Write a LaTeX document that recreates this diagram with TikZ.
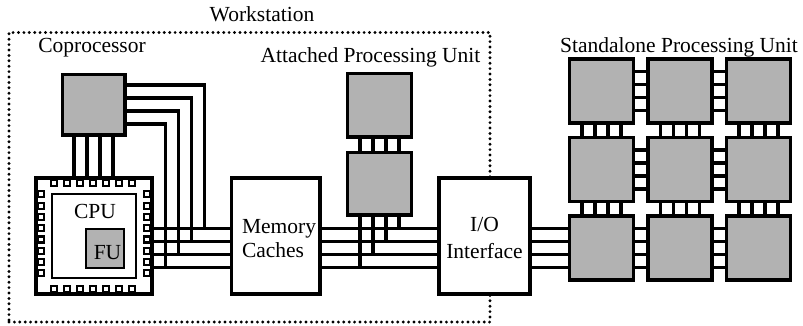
\documentclass[tikz,border=0pt]{standalone}
\usepackage{fontspec}
\setmainfont{Liberation Serif}
\definecolor{chip}{gray}{0.70}
\begin{document}
\begin{tikzpicture}[x=1pt,y=-1pt,
  wire/.style={line width=3.4pt},
  box/.style={draw,line width=3.4pt,fill=white,inner sep=0pt,outer sep=0pt,rectangle},
  chipbox/.style={box,fill=chip},
  pin/.style={draw,line width=2.1pt,fill=white},
  thinbox/.style={draw,line width=2.3pt,inner sep=0pt,outer sep=0pt,rectangle},
  lbl/.style={font=\fontsize{21.5}{25}\selectfont,inner sep=0pt,outer sep=0pt},
  wsbox/.style={draw,line width=3.2pt,dash pattern=on 0pt off 5.4pt,line cap=round,inner sep=0pt,outer sep=0pt,rectangle}
]
\useasboundingbox (0,0) rectangle (803,325);

% workstation boundary
\node[wsbox,minimum width=481pt,minimum height=289.5pt] (ws) at (249.5,177.25) {};

% boxes (positions)
\node[box,minimum width=116pt,minimum height=116pt] (cpu) at (94,236) {};
\node[box,minimum width=88.5pt,minimum height=116pt] (mem) at (275.75,236) {};
\node[box,minimum width=91pt,minimum height=116pt] (io) at (484.5,236) {};
\node[chipbox,minimum width=62.5pt,minimum height=60.5pt] (cop) at (93.75,104.75) {};
\node[chipbox,minimum width=64pt,minimum height=63.5pt] (a1) at (379.5,105.25) {};
\node[chipbox,minimum width=64pt,minimum height=62.5pt] (a2) at (379.5,183.75) {};
\foreach \i/\x in {0/601.5,1/680,2/758.5}
  \foreach \j/\y in {0/91,1/169.5,2/248}
    \node[chipbox,minimum width=64pt,minimum height=64pt] (s\i\j) at (\x,\y) {};

% buses
\foreach \y in {228.5,241.5,254.5,267.5} {
  \draw[wire] (cpu.east |- 0,\y) -- (mem.west |- 0,\y);
  \draw[wire] (mem.east |- 0,\y) -- (io.west |- 0,\y);
  \draw[wire] (io.east |- 0,\y) -- (s02.west |- 0,\y);
}
% coprocessor to bus
\foreach \ya/\xv/\yb in {85/204.5/228.5,98/191.5/241.5,111/178.5/254.5,124/165.5/267.5}
  \draw[wire] (cop.east |- 0,\ya) -| (\xv,\yb);
% coprocessor to cpu
\foreach \x in {74,87,100,113}
  \draw[wire] (cop.south -| \x,0) -- (cpu.north -| \x,0);
% attached processing unit
\foreach \x in {360,373,386,399}
  \draw[wire] (a1.south -| \x,0) -- (a2.north -| \x,0);
\foreach \x/\yb in {360/267.5,373/254.5,386/241.5,399/228.5}
  \draw[wire] (a2.south -| \x,0) -- (\x,\yb);
% standalone grid links
\foreach \j in {0,1,2}
  \foreach \i/\k in {0/1,1/2}
    \foreach \d in {-19.5,-6.5,6.5,19.5}
      \draw[wire] ([yshift=\d pt]s\i\j.east) -- ([yshift=\d pt]s\k\j.west);
\foreach \i in {0,1,2}
  \foreach \j/\k in {0/1,1/2}
    \foreach \d in {-19.5,-6.5,6.5,19.5}
      \draw[wire] ([xshift=\d pt]s\i\j.south) -- ([xshift=\d pt]s\i\k.north);

% redraw box outlines on top
\node[box,minimum width=116pt,minimum height=116pt] at (cpu) {};
\node[box,minimum width=88.5pt,minimum height=116pt] at (mem) {};
\node[box,minimum width=91pt,minimum height=116pt] at (io) {};

% CPU details
\node[thinbox,minimum width=84pt,minimum height=84pt] (core) at (94,236) {};
\node[thinbox,fill=chip,minimum width=38pt,minimum height=39pt] (fu) at (105,248.5) {};
\foreach \x in {54,67,...,132} {
  \draw[pin] (\x-3.2,180.2) rectangle (\x+3.2,186.2);
  \draw[pin] (\x-3.2,285.8) rectangle (\x+3.2,291.8);
}
\foreach \y in {194.3,205.6,216.9,228.2,239.5,250.8,262.1,273.4} {
  \draw[pin] (38.2,\y-3) rectangle (44.2,\y+3);
  \draw[pin] (143.8,\y-3) rectangle (149.8,\y+3);
}

% labels
\node[lbl,anchor=base] (tws) at (262,21) {Workstation};
\node[lbl,anchor=base] (tcop) at (92,52) {Coprocessor};
\node[lbl,anchor=base] (tapu) at (370.5,62) {Attached Processing Unit};
\node[lbl,anchor=base] (tspu) at (679,52) {Standalone Processing Unit};
\node[lbl,anchor=base] (tcpu) at (95,218.3) {CPU};
\node[lbl,anchor=base] (tfu) at (107.5,259.3) {FU};
\node[lbl,anchor=base west] (tmem1) at (242,233.5) {Memory};
\node[lbl,anchor=base west] (tmem2) at (242,257.7) {Caches};
\node[lbl,anchor=base] (tio1) at (484.5,231.7) {I/O};
\node[lbl,anchor=base] (tio2) at (484.5,258.3) {Interface};
\end{tikzpicture}
\end{document}
